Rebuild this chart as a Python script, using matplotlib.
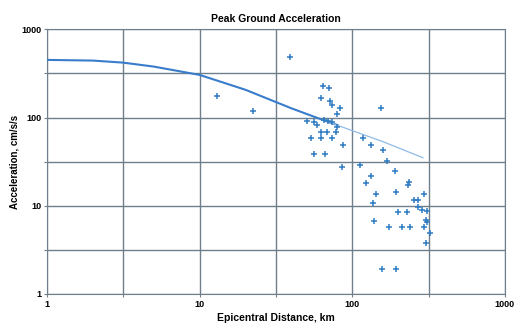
import numpy as np
import matplotlib
matplotlib.use("Agg")
import matplotlib.pyplot as plt

# attenuation curve (distance km, acceleration cm/s/s)
curve_dist = [1, 2, 3.15, 5, 10, 20, 40, 64, 80]
curve_acc = [450, 442, 419, 378, 304, 206, 127, 94, 82]
tail_dist = [64, 100, 160, 290]
tail_acc = [94, 71, 53, 35]

# recorded peak accelerations
obs_dist = [13.0, 22.4, 39.3,
            64.7, 70.3, 62.8, 71.9, 73.6, 83.0, 78.8, 65.7, 69.8, 50.8, 55.9, 73.8,
            59.1, 79.4, 61.9, 68.4, 77.6, 53.6, 62.3, 73.8, 86.9, 55.9, 66.2, 85.0,
            154, 117, 132, 160, 168, 112, 189, 133, 123, 235, 232, 142, 194, 296,
            137, 253, 268, 271, 288, 308, 198, 228, 302, 308, 138, 174, 213, 238,
            295, 323, 302, 156, 194]
obs_acc = [176, 119, 483,
           225, 214, 165, 152, 137, 127, 110, 94, 91.5, 90.3, 89.8, 89.8,
           82.4, 78.2, 68.7, 68.7, 68.7, 58.7, 58.7, 58.7, 48.5, 38.7, 38.7, 27.5,
           127, 58.7, 48.5, 42.9, 32.2, 29.0, 24.8, 21.5, 18.0, 18.8, 17.4, 13.6, 14.5, 13.6,
           10.7, 11.6, 11.6, 9.57, 8.85, 8.66, 8.58, 8.58, 6.85, 6.47, 6.78, 5.75, 5.75, 5.75,
           5.71, 4.92, 3.82, 1.94, 1.94]

grid_ticks = [1, 3.162, 10, 31.62, 100, 316.2, 1000]
grid_labels = ["1", "", "10", "", "100", "", "1000"]

plt.rcParams["font.family"] = ["Liberation Sans", "DejaVu Sans"]

fig = plt.figure(figsize=(5.26, 3.23), dpi=100)
ax = fig.add_axes([0.0894, 0.0898, 0.8706, 0.8195])

ax.plot(curve_dist, curve_acc, color="#3a7ccc", lw=1.5, zorder=3)
ax.plot(tail_dist, tail_acc, color="#8fbbe6", lw=0.9, zorder=3)
ax.scatter(obs_dist, obs_acc, marker="+", s=14, color="#2f7cc2", linewidths=1.1, zorder=4)

ax.set_xscale("log")
ax.set_yscale("log")
ax.set_xlim(1, 1000)
ax.set_ylim(1, 1000)
ax.set_xticks(grid_ticks)
ax.set_xticklabels(grid_labels)
ax.set_yticks(grid_ticks)
ax.set_yticklabels(grid_labels)
ax.minorticks_off()
ax.tick_params(length=2, width=0.8, color="#6f808c", labelsize=6.5, pad=2)
for lab in ax.get_xticklabels() + ax.get_yticklabels():
    lab.set_fontweight("bold")
ax.grid(True, color="#6f808c", lw=1.0)
for s in ax.spines.values():
    s.set_color("#6f808c")

ax.set_title("Peak Ground Acceleration", fontsize=7.5, fontweight="bold", pad=5)
ax.set_xlabel("Epicentral Distance, km", fontsize=7.5, fontweight="bold", labelpad=3)
ax.set_ylabel("Acceleration, cm/s/s", fontsize=7, fontweight="bold", labelpad=1)

fig.savefig("out.png", dpi=100)
